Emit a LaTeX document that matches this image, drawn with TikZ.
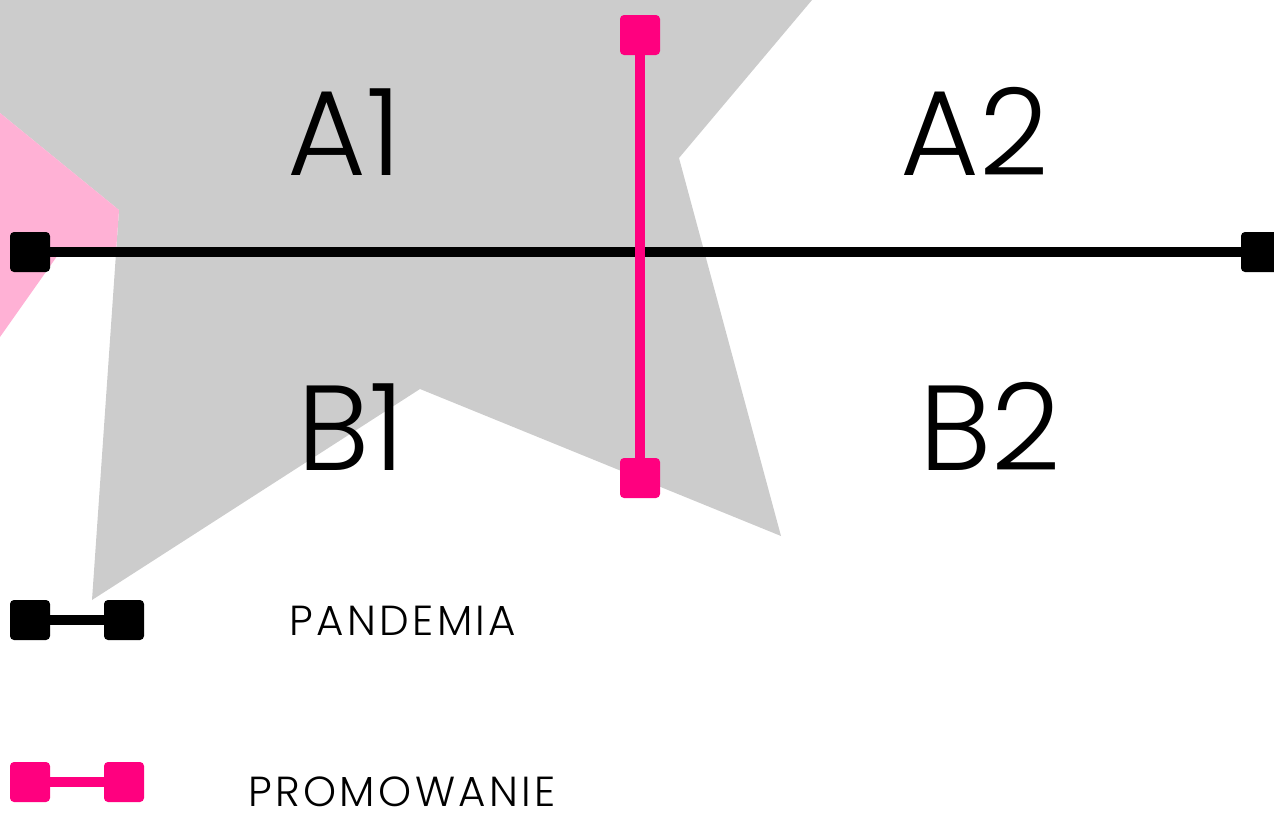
\documentclass[tikz,border=0pt]{standalone}
\usepackage{fontspec}
\setmainfont{Poppins}[UprightFont=* Light]
\definecolor{starGray}{HTML}{CCCCCC}
\definecolor{hotPink}{HTML}{FF007F}
\definecolor{softPink}{HTML}{FFB1D5}
\tikzset{
  endbox/.style={rectangle, rounded corners=4pt, minimum size=40pt, inner sep=0pt},
  bigtag/.style={anchor=base, inner sep=0pt, font=\fontsize{121}{121}\selectfont},
  keytag/.style={anchor=base, inner sep=0pt, font=\fontsize{42}{42}\selectfont\addfontfeature{LetterSpace=8}},
}
\begin{document}
\begin{tikzpicture}[x=1pt,y=-1pt]
                \useasboundingbox (0,0) rectangle (1274,812);

                \fill[starGray] (0,0)--(812,0)--(679,158)--(781,536)--(420,389)--(92,600)--(119,210)--(0,113)--cycle;
                \fill[softPink] (0,113)--(119,210)--(116,252)--(60,252)--(0,337)--cycle;

                \node[bigtag] (A1) at (345,175) {A1};
                \node[bigtag] (A2) at (975,175) {A2};
                \node[bigtag] (B1) at (351,470) {B1};
                \node[bigtag] (B2) at (990,470) {B2};

                \node[endbox, fill=black] (PL) at (30,252) {};
                \node[endbox, fill=black] (PR) at (1261,252) {};
                \draw[line width=10pt] (PL)--(PR);

                \node[endbox, fill=hotPink] (PT) at (640,35) {};
                \node[endbox, fill=hotPink] (PB) at (640,478) {};
                \draw[hotPink, line width=10pt] (PT)--(PB);

                \node[endbox, fill=black] (K1) at (30,620) {};
                \node[endbox, fill=black] (K2) at (124,620) {};
                \draw[line width=10pt] (K1)--(K2);
                \node[keytag] (Kt) at (403,635) {PANDEMIA};

                \node[endbox, fill=hotPink] (M1) at (30,782) {};
                \node[endbox, fill=hotPink] (M2) at (124,782) {};
                \draw[hotPink, line width=10pt] (M1)--(M2);
                \node[keytag] (Mt) at (402,806) {PROMOWANIE};
            \end{tikzpicture}
\end{document}
